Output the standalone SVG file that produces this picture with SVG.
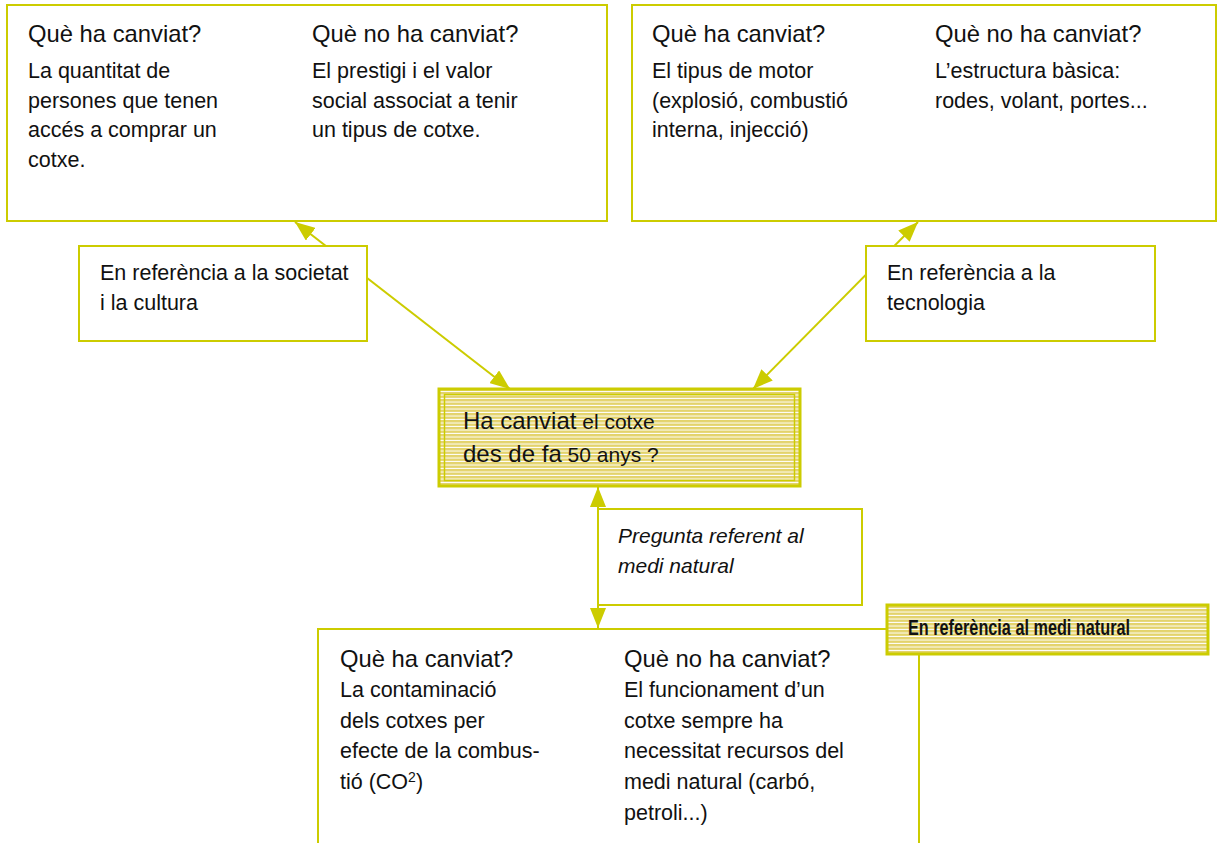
<svg xmlns="http://www.w3.org/2000/svg" width="1229" height="843" viewBox="0 0 1229 843">
<defs>
<style>
.box{fill:#fff;stroke:#CCCC00;stroke-width:2}
.t{font-family:"Liberation Sans",Arial,sans-serif;font-size:21.5px;fill:#111}
.h{font-size:23.8px}
.i{font-style:italic;font-size:21px}
.conn{stroke:#CCCC00;stroke-width:2;fill:none}
.hl{fill:url(#stripes);stroke:#CCCC00;stroke-width:3}
</style>
<pattern id="stripes" width="8" height="3.5" patternUnits="userSpaceOnUse">
<rect width="8" height="3.5" fill="#E3D36C"/>
<rect y="2.5" width="8" height="1" fill="#fff"/>
</pattern>
<marker id="ah" markerWidth="20" markerHeight="16" refX="20" refY="8" orient="auto-start-reverse" markerUnits="userSpaceOnUse" viewBox="0 0 20 16">
<path d="M0,0 L20,8 L0,16 z" fill="#CCCC00"/>
</marker>
</defs>
<rect width="1229" height="843" fill="#fff"/>

<g id="connectors">
<line class="conn" x1="295" y1="222" x2="510" y2="389" marker-start="url(#ah)" marker-end="url(#ah)"/>
<line class="conn" x1="918" y1="222" x2="753" y2="389" marker-start="url(#ah)" marker-end="url(#ah)"/>
<line class="conn" x1="598" y1="487" x2="598" y2="628" marker-start="url(#ah)" marker-end="url(#ah)"/>
</g>

<g id="society-box">
<rect class="box" x="7" y="5" width="600" height="216"/>
<text class="t h" x="28" y="42">Què ha canviat?</text>
<text class="t" x="28" y="78">La quantitat de</text>
<text class="t" x="28" y="107.5">persones que tenen</text>
<text class="t" x="28" y="137">accés a comprar un</text>
<text class="t" x="28" y="166.5">cotxe.</text>
<text class="t h" x="312" y="42">Què no ha canviat?</text>
<text class="t" x="312" y="78">El prestigi i el valor</text>
<text class="t" x="312" y="107.5">social associat a tenir</text>
<text class="t" x="312" y="137">un tipus de cotxe.</text>
</g>

<g id="technology-box">
<rect class="box" x="632" y="5" width="584" height="216"/>
<text class="t h" x="652" y="42">Què ha canviat?</text>
<text class="t" x="652" y="78">El tipus de motor</text>
<text class="t" x="652" y="107.5">(explosió, combustió</text>
<text class="t" x="652" y="137">interna, injecció)</text>
<text class="t h" x="935" y="42">Què no ha canviat?</text>
<text class="t" x="935" y="78">L’estructura bàsica:</text>
<text class="t" x="935" y="107.5">rodes, volant, portes...</text>
</g>

<g id="society-label">
<rect class="box" x="79" y="246" width="288" height="95"/>
<text class="t" x="100" y="280">En referència a la societat</text>
<text class="t" x="100" y="310">i la cultura</text>
</g>

<g id="technology-label">
<rect class="box" x="866" y="246" width="289" height="95"/>
<text class="t" x="887" y="280">En referència a la</text>
<text class="t" x="887" y="310">tecnologia</text>
</g>

<g id="central-question">
<rect class="hl" x="439" y="389" width="361" height="97"/>
<rect x="444.5" y="394.5" width="350" height="86" fill="none" stroke="#CCCC00" stroke-width="1.5"/>
<text class="t" x="463" y="429"><tspan font-size="24">Ha canviat</tspan><tspan font-size="21"> el cotxe</tspan></text>
<text class="t" x="463" y="462"><tspan font-size="24">des de fa</tspan><tspan font-size="21"> 50 anys ?</tspan></text>
</g>

<g id="nature-question">
<rect class="box" x="598" y="509" width="264" height="96"/>
<text class="t i" x="618" y="543">Pregunta referent al</text>
<text class="t i" x="618" y="573">medi natural</text>
</g>

<g id="nature-box">
<path class="box" d="M318,870 V629 H919 V870"/>
<text class="t h" x="340" y="667">Què ha canviat?</text>
<text class="t" x="340" y="697">La contaminació</text>
<text class="t" x="340" y="728">dels cotxes per</text>
<text class="t" x="340" y="758">efecte de la combus-</text>
<text class="t" x="340" y="789">tió (CO<tspan font-size="14" dy="-7">2</tspan><tspan dy="7">)</tspan></text>
<text class="t h" x="624" y="667">Què no ha canviat?</text>
<text class="t" x="624" y="697">El funcionament d’un</text>
<text class="t" x="624" y="728">cotxe sempre ha</text>
<text class="t" x="624" y="758">necessitat recursos del</text>
<text class="t" x="624" y="789">medi natural (carbó,</text>
<text class="t" x="624" y="820">petroli...)</text>
</g>

<g id="nature-banner">
<rect class="hl" x="887" y="605" width="321" height="49"/>
<text class="t" x="908" y="635" font-size="19" font-weight="bold" textLength="222" lengthAdjust="spacingAndGlyphs">En referència al medi natural</text>
</g>
</svg>
